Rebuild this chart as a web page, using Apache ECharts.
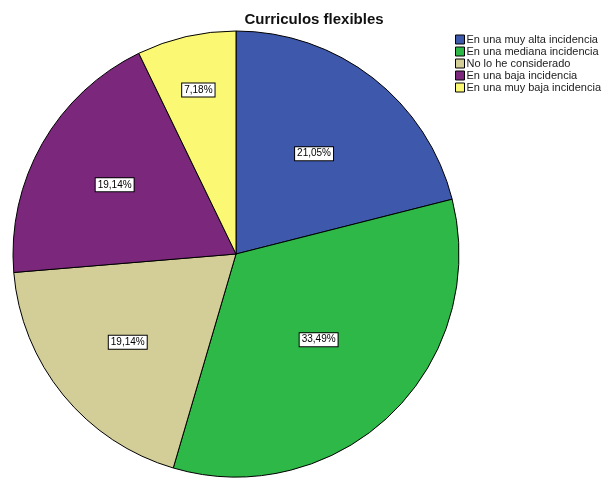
<!DOCTYPE html>
<html><head><meta charset="utf-8">
<script src="https://cdn.jsdelivr.net/npm/echarts@6/dist/echarts.min.js"></script>
<style>html,body{margin:0;padding:0;background:#fff}#c{width:605px;height:479px}</style>
</head><body><div id="c"></div>
<script>
const categories = ['En una muy alta incidencia','En una mediana incidencia','No lo he considerado','En una baja incidencia','En una muy baja incidencia'];
const values = [21.05, 33.49, 19.14, 19.14, 7.18];
const colors = ['#3e58ac','#2eb848','#d3ce97','#7b287c','#fbf873'];
// radial placement factor for each value label (relative to the mid-radius)
const labelRadial = [1.11, 1.04, 1.22, 1.22, 1.47];
const CENTER = [236, 254];
const chart = echarts.init(document.getElementById('c'));
chart.setOption({
  animation:false,
  title:{text:'Curriculos flexibles',left:309,textAlign:'center',top:7,textStyle:{fontFamily:'Liberation Sans, Arial',fontSize:15,fontWeight:'bold',color:'#111'}},
  legend:{orient:'vertical',left:450,top:29,itemWidth:9,itemHeight:9,itemGap:1,icon:'rect',
    textStyle:{fontFamily:'Liberation Sans, Arial',fontSize:11,lineHeight:11,color:'#222',padding:[0,0,0,-3]},
    itemStyle:{borderColor:'#000',borderWidth:1},data:categories},
  series:[{type:'pie',center:CENTER,radius:223,startAngle:90,clockwise:true,
    itemStyle:{borderColor:'#000',borderWidth:1},
    label:{position:'inside',formatter:p=>p.value.toFixed(2).replace('.',',')+'%',
      fontFamily:'Liberation Sans, Arial',fontSize:10,color:'#000',backgroundColor:'#fff',borderColor:'#000',borderWidth:1,padding:[2,2,1,2]},
    labelLine:{show:false},
    labelLayout:function(p){
      const r=p.labelRect, cx=r.x+r.width/2, cy=r.y+r.height/2;
      const f=labelRadial[p.dataIndex];
      return {dx:(cx-CENTER[0])*(f-1), dy:(cy-CENTER[1])*(f-1)};
    },
    data:categories.map((n,i)=>({name:n,value:values[i],itemStyle:{color:colors[i]}}))}]
});
</script></body></html>
